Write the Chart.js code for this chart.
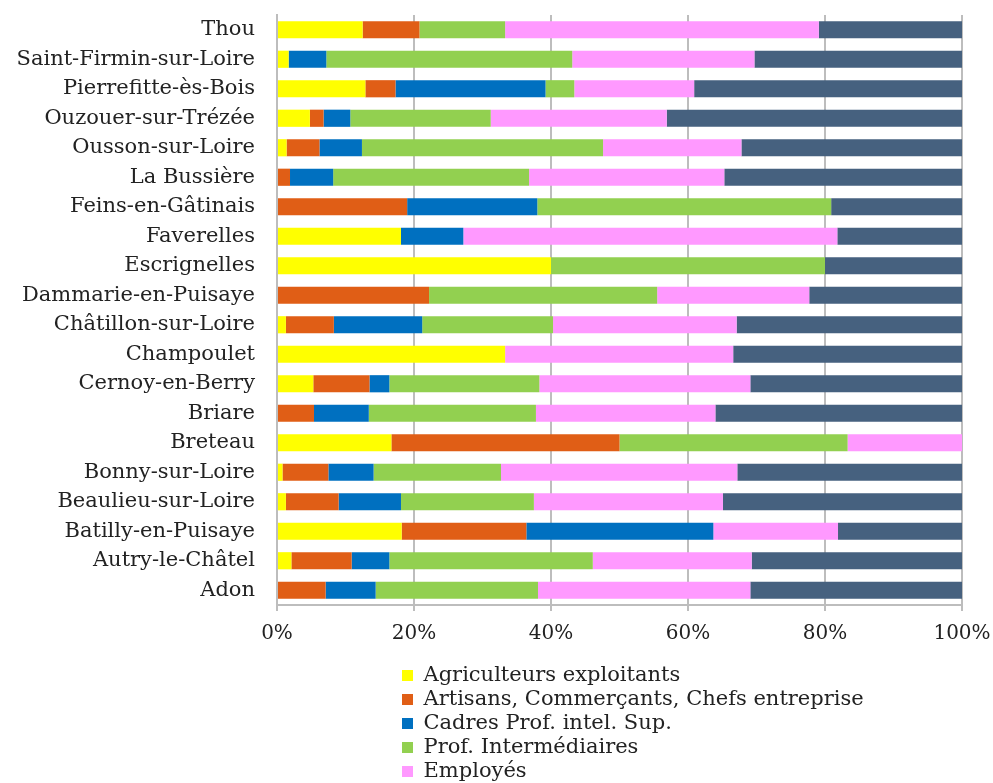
<!DOCTYPE html>
<html>
<head>
<meta charset="utf-8">
<script src="https://cdn.jsdelivr.net/npm/chart.js@4"></script>
<style>
  html, body { margin: 0; padding: 0; background: #ffffff; overflow: hidden; }
  #wrap { position: relative; width: 993px; height: 783px; }
</style>
</head>
<body>
<div id="wrap"><canvas id="c" width="993" height="783"></canvas></div>
<script>
// Communes (alphabetical; axis reversed so Adon sits at the bottom)
const communes = ["Adon", "Autry-le-Châtel", "Batilly-en-Puisaye", "Beaulieu-sur-Loire", "Bonny-sur-Loire",
  "Breteau", "Briare", "Cernoy-en-Berry", "Champoulet", "Châtillon-sur-Loire", "Dammarie-en-Puisaye",
  "Escrignelles", "Faverelles", "Feins-en-Gâtinais", "La Bussière", "Ousson-sur-Loire",
  "Ouzouer-sur-Trézée", "Pierrefitte-ès-Bois", "Saint-Firmin-sur-Loire", "Thou"];

// Shares in %
const agriculteurs = [0, 2.1, 18.2, 1.3, 0.8, 16.7, 0, 5.3, 33.3, 1.3, 0, 40, 18.1, 0, 0, 1.4, 4.8, 12.9, 1.7, 12.5];
const artisans     = [7.1, 8.8, 18.2, 7.7, 6.7, 33.3, 5.4, 8.2, 0, 7.0, 22.2, 0, 0, 19.0, 1.9, 4.8, 2.0, 4.4, 0, 8.3];
const cadres       = [7.3, 5.5, 27.3, 9.1, 6.6, 0, 8.0, 2.9, 0, 12.9, 0, 0, 9.1, 19.0, 6.3, 6.2, 3.9, 21.9, 5.5, 0];
const profInter    = [23.7, 29.7, 0, 19.4, 18.6, 33.3, 24.4, 21.9, 0, 19.1, 33.3, 40, 0, 42.9, 28.6, 35.2, 20.5, 4.2, 35.9, 12.5];
const employes     = [31.0, 23.2, 18.2, 27.6, 34.5, 16.7, 26.2, 30.8, 33.3, 26.8, 22.2, 0, 54.6, 0, 28.5, 20.2, 25.7, 17.5, 26.6, 45.8];
const ouvriers     = [30.9, 30.7, 18.1, 34.9, 32.8, 0, 36.0, 30.9, 33.4, 32.9, 22.3, 20, 18.2, 19.1, 34.7, 32.2, 43.1, 39.1, 30.3, 20.9];

const seriesNames = ["Agriculteurs exploitants", "Artisans, Commerçants, Chefs entreprise",
  "Cadres Prof. intel. Sup.", "Prof. Intermédiaires", "Employés", "Ouvriers"];
const xTickValues = [0, 20, 40, 60, 80, 100];

const colors = ["#FFFF00", "#E05E16", "#0070C0", "#92D050", "#FF99FF", "#46617F"];
const seriesData = [agriculteurs, artisans, cadres, profInter, employes, ouvriers];

const FONT = "'DejaVu Serif', 'Liberation Serif', serif";

const legendPlacer = {
  id: 'legendPlacer',
  afterLayout(chart) {
    const lg = chart.legend;
    if (!lg) return;
    lg.left = 399; lg.right = 993;
    lg.top = 662; lg.bottom = 1000;
    lg.width = lg.right - lg.left;
    lg.height = lg.bottom - lg.top;
  }
};

new Chart(document.getElementById('c'), {
  type: 'bar',
  data: {
    labels: communes,
    datasets: seriesNames.map((name, i) => ({
      label: name,
      data: seriesData[i],
      backgroundColor: colors[i],
      borderWidth: 0,
      categoryPercentage: 0.6,
      barPercentage: 0.97
    }))
  },
  options: {
    indexAxis: 'y',
    responsive: false,
    animation: false,
    layout: { padding: { top: 15, right: 31, bottom: 127, left: 0 } },
    scales: {
      x: {
        stacked: true,
        min: 0, max: 100,
        afterBuildTicks: (scale) => { scale.ticks = xTickValues.map(v => ({ value: v })); },
        afterFit: (scale) => { scale.paddingLeft = 0; scale.paddingRight = 0; },
        ticks: {
          callback: (v) => v + '%',
          font: { family: FONT, size: 20 },
          color: '#222',
          padding: 10.5
        },
        grid: { color: '#BDBDBD', lineWidth: 2, drawTicks: true, tickLength: 6 },
        border: { color: '#BDBDBD', width: 2 }
      },
      y: {
        stacked: true,
        reverse: true,
        afterFit: (scale) => { scale.width = 276; scale.paddingTop = 0; scale.paddingBottom = 0; },
        ticks: {
          font: { family: FONT, size: 21 },
          color: '#222',
          padding: 22
        },
        grid: { display: false, drawTicks: false },
        border: { color: '#BDBDBD', width: 2 }
      }
    },
    plugins: {
      legend: {
        position: 'left',
        align: 'start',
        maxWidth: 1,
        labels: {
          boxWidth: 11,
          boxHeight: 11,
          padding: 3,
          color: '#222',
          font: { family: FONT, size: 21 }
        }
      },
      tooltip: { enabled: false }
    }
  },
  plugins: [legendPlacer]
});
</script>
</body>
</html>
